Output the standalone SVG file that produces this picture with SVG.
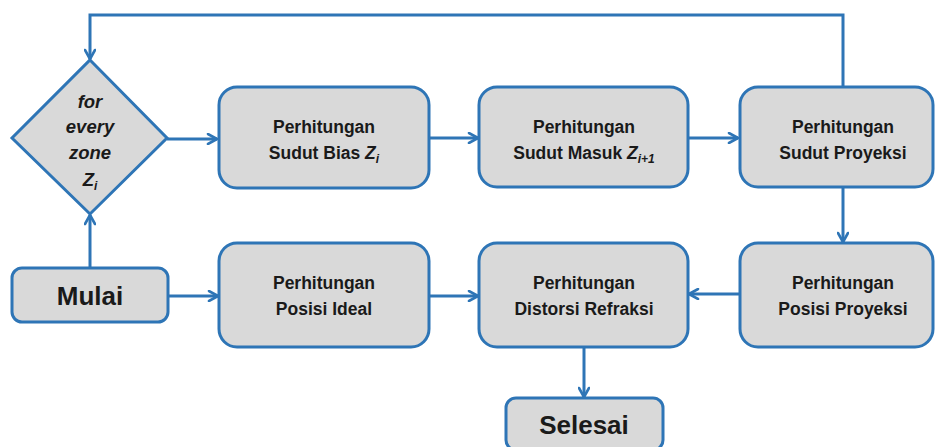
<svg xmlns="http://www.w3.org/2000/svg" width="937" height="447" viewBox="0 0 937 447">
<defs>
<marker id="arr" viewBox="0 0 12 12" refX="11" refY="6" markerWidth="12" markerHeight="12" markerUnits="userSpaceOnUse" orient="auto">
<path d="M2,1 L11,6 L2,11" fill="none" stroke="#2E75B6" stroke-width="2.6" stroke-linecap="round" stroke-linejoin="round"/>
</marker>
<style>
.box{fill:#D9D9D9;stroke:#2E75B6;stroke-width:3}
.t{font-family:"Liberation Sans",Arial,sans-serif;font-weight:bold;font-size:17.5px;fill:#1a1a1a;text-anchor:middle}
.big{font-size:26px}
.it{font-style:italic;font-size:18.5px}
.c{fill:none;stroke:#2E75B6;stroke-width:3;marker-end:url(#arr)}
</style>
</defs>
<rect width="937" height="447" fill="#ffffff"/>
<g id="connectors">
<path class="c" d="M843,86 V15 H90 V59"/>
<path class="c" d="M167,139 H217"/>
<path class="c" d="M429,138 H478"/>
<path class="c" d="M688,138 H738"/>
<path class="c" d="M843,187 V242"/>
<path class="c" d="M739,294 H689"/>
<path class="c" d="M168,296 H218"/>
<path class="c" d="M429,296 H478"/>
<path class="c" d="M90,268 V215"/>
<path class="c" d="M584,347 V397"/>
</g>
<g id="decision">
<polygon class="box" points="90,60 167,138 90,214 12,138"/>
<text class="t it" x="90" y="108">for</text>
<text class="t it" x="90" y="133">every</text>
<text class="t it" x="90" y="159">zone</text>
<text class="t it" x="90" y="186">Z<tspan font-size="12" dy="4">i</tspan></text>
</g>
<g id="bias">
<rect class="box" x="219" y="87" width="210" height="101" rx="18"/>
<text class="t" x="324" y="133">Perhitungan</text>
<text class="t" x="324" y="159">Sudut Bias <tspan font-style="italic">Z</tspan><tspan font-style="italic" font-size="12" dy="4">i</tspan></text>
</g>
<g id="masuk">
<rect class="box" x="479" y="87" width="209" height="100" rx="18"/>
<text class="t" x="584" y="133">Perhitungan</text>
<text class="t" x="584" y="159">Sudut Masuk <tspan font-style="italic">Z</tspan><tspan font-style="italic" font-size="12" dy="4">i+1</tspan></text>
</g>
<g id="proyeksi-sudut">
<rect class="box" x="740" y="87" width="193" height="100" rx="18"/>
<text class="t" x="843" y="133">Perhitungan</text>
<text class="t" x="843" y="159">Sudut Proyeksi</text>
</g>
<g id="mulai">
<rect class="box" x="12" y="268" width="156" height="54" rx="10"/>
<text class="t big" x="90" y="305" font-size="27">Mulai</text>
</g>
<g id="ideal">
<rect class="box" x="219" y="243" width="210" height="104" rx="18"/>
<text class="t" x="324" y="289">Perhitungan</text>
<text class="t" x="324" y="315">Posisi Ideal</text>
</g>
<g id="distorsi">
<rect class="box" x="479" y="243" width="209" height="104" rx="18"/>
<text class="t" x="584" y="289">Perhitungan</text>
<text class="t" x="584" y="315">Distorsi Refraksi</text>
</g>
<g id="posisi-proyeksi">
<rect class="box" x="740" y="243" width="193" height="104" rx="18"/>
<text class="t" x="843" y="289">Perhitungan</text>
<text class="t" x="843" y="315">Posisi Proyeksi</text>
</g>
<g id="selesai">
<rect class="box" x="506" y="398" width="157" height="52" rx="10"/>
<text class="t big" x="584" y="434">Selesai</text>
</g>
</svg>
